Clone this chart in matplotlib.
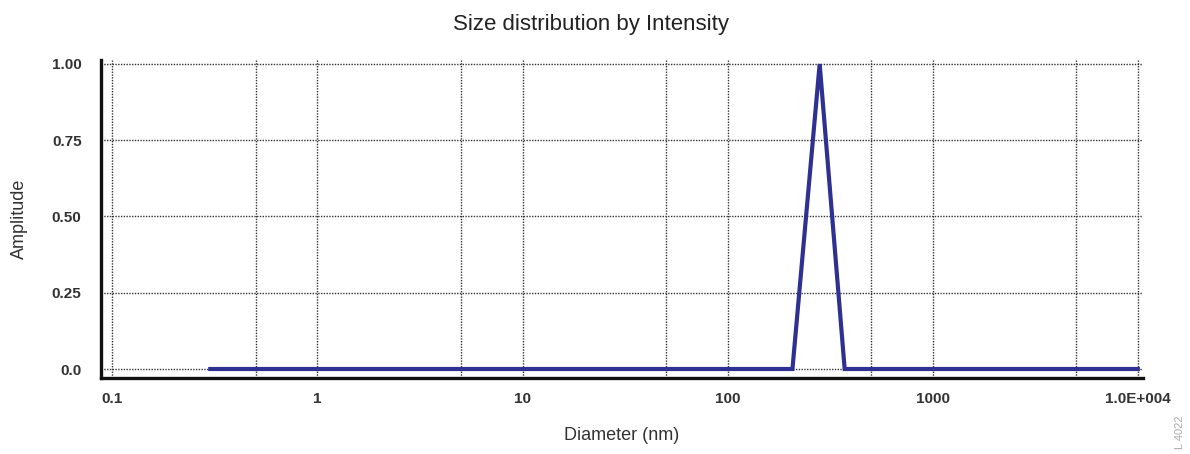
import matplotlib.pyplot as plt
from matplotlib.ticker import FixedLocator, FixedFormatter, NullLocator

plt.rcParams['font.family'] = ['Liberation Sans', 'DejaVu Sans']

# data
diameter_nm = [0.3, 207, 281, 372, 10000]
amplitude = [0.0, 0.0, 1.0, 0.0, 0.0]

x_ticks = [0.1, 1, 10, 100, 1000, 10000]
x_tick_labels = ['0.1', '1', '10', '100', '1000', '1.0E+004']
x_grid = [0.1, 0.5, 1, 5, 10, 50, 100, 500, 1000, 5000, 10000]
y_ticks = [0.0, 0.25, 0.5, 0.75, 1.0]
y_tick_labels = ['0.0', '0.25', '0.50', '0.75', '1.00']

fig = plt.figure(figsize=(11.9, 4.54), dpi=100)
ax = fig.add_axes([0.0849, 0.1674, 0.8756, 0.7004])

ax.plot(diameter_nm, amplitude, color='#2e3192', linewidth=3.0,
        solid_joinstyle='miter', zorder=3)

ax.set_xscale('log')
ax.set_xlim(0.088, 10600)
ax.set_ylim(-0.0295, 1.013)

ax.xaxis.set_major_locator(FixedLocator(x_ticks))
ax.xaxis.set_major_formatter(FixedFormatter(x_tick_labels))
ax.xaxis.set_minor_locator(NullLocator())
ax.set_yticks(y_ticks)
ax.set_yticklabels(y_tick_labels)

# grid lines drawn as dotted reference lines
for g in x_grid:
    ax.axvline(g, color='#333333', linestyle=(0, (1, 1)), linewidth=1.0, zorder=1)
for g in y_ticks:
    ax.axhline(g, color='#333333', linestyle=(0, (1, 1)), linewidth=1.0, zorder=1)

ax.tick_params(length=0, labelsize=11)
ax.tick_params(axis='x', pad=10)
ax.tick_params(axis='y', pad=14)
for lbl in ax.get_xticklabels() + ax.get_yticklabels():
    lbl.set_fontweight('bold')
    lbl.set_color('#333333')

for side in ('top', 'right'):
    ax.spines[side].set_visible(False)
for side in ('left', 'bottom'):
    ax.spines[side].set_linewidth(2.4)
    ax.spines[side].set_color('#111111')

fig.text(0.497, 0.945, 'Size distribution by Intensity', fontsize=16,
         color='#222222', ha='center', va='center')
ax.set_xlabel('Diameter (nm)', fontsize=13, labelpad=15, color='#333333')
ax.set_ylabel('Amplitude', fontsize=13, labelpad=17, color='#333333')

fig.text(0.992, 0.01, 'L 4022', rotation=90, fontsize=8, color='#aaaaaa',
         ha='center', va='bottom')

fig.savefig('out.png', dpi=100)
